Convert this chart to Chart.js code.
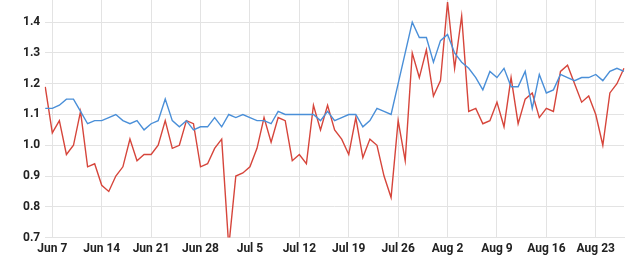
<!DOCTYPE html>
<html>
<head>
<meta charset="utf-8">
<script src="https://cdn.jsdelivr.net/npm/chart.js@4.4.1/dist/chart.umd.min.js"></script>
<style>
  html, body { margin: 0; padding: 0; background: #fff; }
  #wrap { width: 640px; height: 263px; }
</style>
</head>
<body>
<div id="wrap"><canvas id="lineChart" width="640" height="263"></canvas></div>
<script>
// daily values, Jun 6 .. Aug 27
const startDay = new Date(2020, 5, 6);
const dayCount = 83;

const blueSeries = [
    1.12, 1.12, 1.13, 1.15, 1.15, 1.11, 1.07, 1.08, 1.08, 1.09,
    1.10, 1.08, 1.07, 1.08, 1.05, 1.07, 1.08, 1.15, 1.08, 1.06,
    1.08, 1.05, 1.06, 1.06, 1.09,
    1.06, 1.10, 1.09, 1.10, 1.09, 1.08, 1.08, 1.07, 1.11, 1.10,
    1.10, 1.10, 1.10, 1.10, 1.08, 1.11, 1.08, 1.09, 1.10, 1.10,
    1.06, 1.08, 1.12, 1.11, 1.10, 1.20, 1.30, 1.40, 1.35, 1.35,
    1.27,
    1.34, 1.36, 1.30, 1.27, 1.25, 1.22, 1.18, 1.24, 1.22, 1.25,
    1.19, 1.19, 1.24, 1.12, 1.23, 1.17, 1.18, 1.23, 1.22, 1.21,
    1.22, 1.22, 1.23, 1.21, 1.24, 1.25, 1.24
];

const redSeries = [
    1.19, 1.04, 1.08, 0.97, 1.00, 1.11, 0.93, 0.94, 0.87, 0.85,
    0.90, 0.93, 1.02, 0.95, 0.97, 0.97, 1.00, 1.08, 0.99, 1.00,
    1.08, 1.07, 0.93, 0.94, 0.99,
    1.02, 0.67, 0.90, 0.91, 0.93, 0.99, 1.09, 1.01, 1.09, 1.08,
    0.95, 0.97, 0.94, 1.13, 1.05, 1.13, 1.05, 1.02, 0.97, 1.09,
    0.96, 1.02, 1.00, 0.90, 0.83, 1.08, 0.95, 1.30, 1.22, 1.31,
    1.16,
    1.21, 1.465, 1.25, 1.42, 1.11, 1.12, 1.07, 1.08, 1.14, 1.06,
    1.22, 1.07, 1.15, 1.17, 1.09, 1.12, 1.11, 1.24, 1.26, 1.20,
    1.14, 1.16, 1.10, 1.00, 1.17, 1.20, 1.25
];

const tickLabels = ['Jun 7', 'Jun 14', 'Jun 21', 'Jun 28', 'Jul 5', 'Jul 12',
    'Jul 19', 'Jul 26', 'Aug 2', 'Aug 9', 'Aug 16', 'Aug 23'];
const yTicks = [0.7, 0.8, 0.9, 1.0, 1.1, 1.2, 1.3, 1.4];

const monthNames = ['Jan', 'Feb', 'Mar', 'Apr', 'May', 'Jun', 'Jul', 'Aug', 'Sep', 'Oct', 'Nov', 'Dec'];
const dayLabels = [];
for (let i = 0; i < dayCount; i++) {
    const d = new Date(startDay.getFullYear(), startDay.getMonth(), startDay.getDate() + i);
    dayLabels.push(monthNames[d.getMonth()] + ' ' + d.getDate());
}

const gridColor = '#e3e3e3';

const ctx = document.getElementById('lineChart').getContext('2d');
const lineChart = new Chart(ctx, {
    type: 'line',
    data: {
        labels: dayLabels,
        datasets: [
            {
                label: 'Blue',
                data: blueSeries,
                borderColor: '#4a8fd8',
                borderWidth: 1.4,
                pointRadius: 0,
                tension: 0,
                fill: false
            },
            {
                label: 'Red',
                data: redSeries,
                borderColor: '#d6453b',
                borderWidth: 1.4,
                pointRadius: 0,
                tension: 0,
                fill: false
            }
        ]
    },
    options: {
        responsive: false,
        animation: false,
        layout: {
            padding: { left: 18, right: 16, top: 0, bottom: 3 }
        },
        plugins: {
            legend: { display: false },
            tooltip: { enabled: false }
        },
        scales: {
            x: {
                offset: false,
                grid: { color: gridColor, drawTicks: false },
                border: { display: true, color: gridColor },
                ticks: {
                    autoSkip: false,
                    maxRotation: 0,
                    padding: 4,
                    color: '#222',
                    font: { family: 'Roboto', size: 12, weight: 'bold' },
                    callback: function(value) {
                        const lbl = this.getLabelForValue(value);
                        return tickLabels.includes(lbl) ? lbl : null;
                    }
                }
            },
            y: {
                min: 0.7,
                max: 1.472,
                afterBuildTicks: function(axis) {
                    axis.ticks = yTicks.map(v => ({ value: v }));
                },
                afterFit: function(axis) {
                    axis.paddingTop = 0;
                    axis.paddingBottom = 0;
                },
                grid: { color: gridColor, drawTicks: false },
                border: { display: false },
                ticks: {
                    padding: 5,
                    color: '#222',
                    font: { family: 'Roboto', size: 12, weight: 'bold' },
                    callback: function(value) {
                        return value.toFixed(1);
                    }
                }
            }
        }
    }
});
</script>
</body>
</html>
